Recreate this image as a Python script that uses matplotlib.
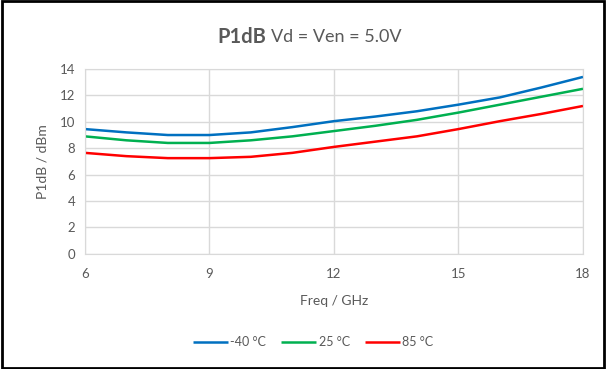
import matplotlib.pyplot as plt
from matplotlib.patches import Rectangle

freq = [6, 7, 8, 9, 10, 11, 12, 13, 14, 15, 16, 17, 18]
p1db_m40 = [9.45, 9.2, 9.0, 9.0, 9.2, 9.6, 10.05, 10.4, 10.8, 11.3, 11.85, 12.6, 13.4]
p1db_25 = [8.9, 8.6, 8.4, 8.4, 8.6, 8.9, 9.3, 9.7, 10.15, 10.7, 11.3, 11.9, 12.5]
p1db_85 = [7.65, 7.4, 7.25, 7.25, 7.35, 7.65, 8.1, 8.5, 8.9, 9.45, 10.05, 10.6, 11.2]
labels = ['-40 °C', '25 °C', '85 °C']
colors = ['#0070C0', '#00B050', '#FF0000']

plt.rcParams['font.family'] = ['Lato', 'DejaVu Sans']
gray = '#595959'

fig = plt.figure(figsize=(6.06, 3.69), dpi=100)
ax = fig.add_axes([0.140, 0.312, 0.822, 0.501])

for ys, lab, c in zip([p1db_m40, p1db_25, p1db_85], labels, colors):
    ax.plot(freq, ys, color=c, lw=1.8, label=lab, solid_capstyle='butt')

ax.set_xlim(6, 18)
ax.set_ylim(0, 14)
ax.set_xticks([6, 9, 12, 15, 18])
ax.set_yticks(range(0, 15, 2))
ax.grid(True, color='#d9d9d9', lw=1)
ax.set_axisbelow(True)
for s in ax.spines.values():
    s.set_color('#d9d9d9')
ax.tick_params(length=0, colors=gray, labelsize=9.5)
ax.tick_params(axis='x', pad=10)
ax.tick_params(axis='y', pad=7)
ax.set_xlabel('Freq / GHz', color=gray, fontsize=10, labelpad=11)
ax.set_ylabel('P1dB / dBm', color=gray, fontsize=10, labelpad=8)

# title with bold first word
t1 = fig.text(0.36, 0.9, 'P1dB', fontsize=14.5, fontweight='bold', color=gray, va='center', ha='left')
fig.canvas.draw()
bb = t1.get_window_extent()
t2 = fig.text(bb.x1 / fig.bbox.width + 0.008, 0.9, 'Vd = Ven = 5.0V', fontsize=13, color=gray, va='center', ha='left')
fig.canvas.draw()
bb2 = t2.get_window_extent()
width = (bb2.x1 - bb.x0) / fig.bbox.width
shift = 0.510 - width / 2 - 0.36
t1.set_x(t1.get_position()[0] + shift)
t2.set_x(t2.get_position()[0] + shift)

fig.legend(loc='center', bbox_to_anchor=(0.517, 0.073), ncol=3, frameon=False,
           fontsize=9, labelcolor=gray, handlelength=2.8, handletextpad=0.2,
           columnspacing=1.2)

fig.patches.append(Rectangle((0.004, 0.004), 0.992, 0.992, transform=fig.transFigure,
                             fill=False, edgecolor='black', lw=2))

fig.savefig('out.png', dpi=100)
